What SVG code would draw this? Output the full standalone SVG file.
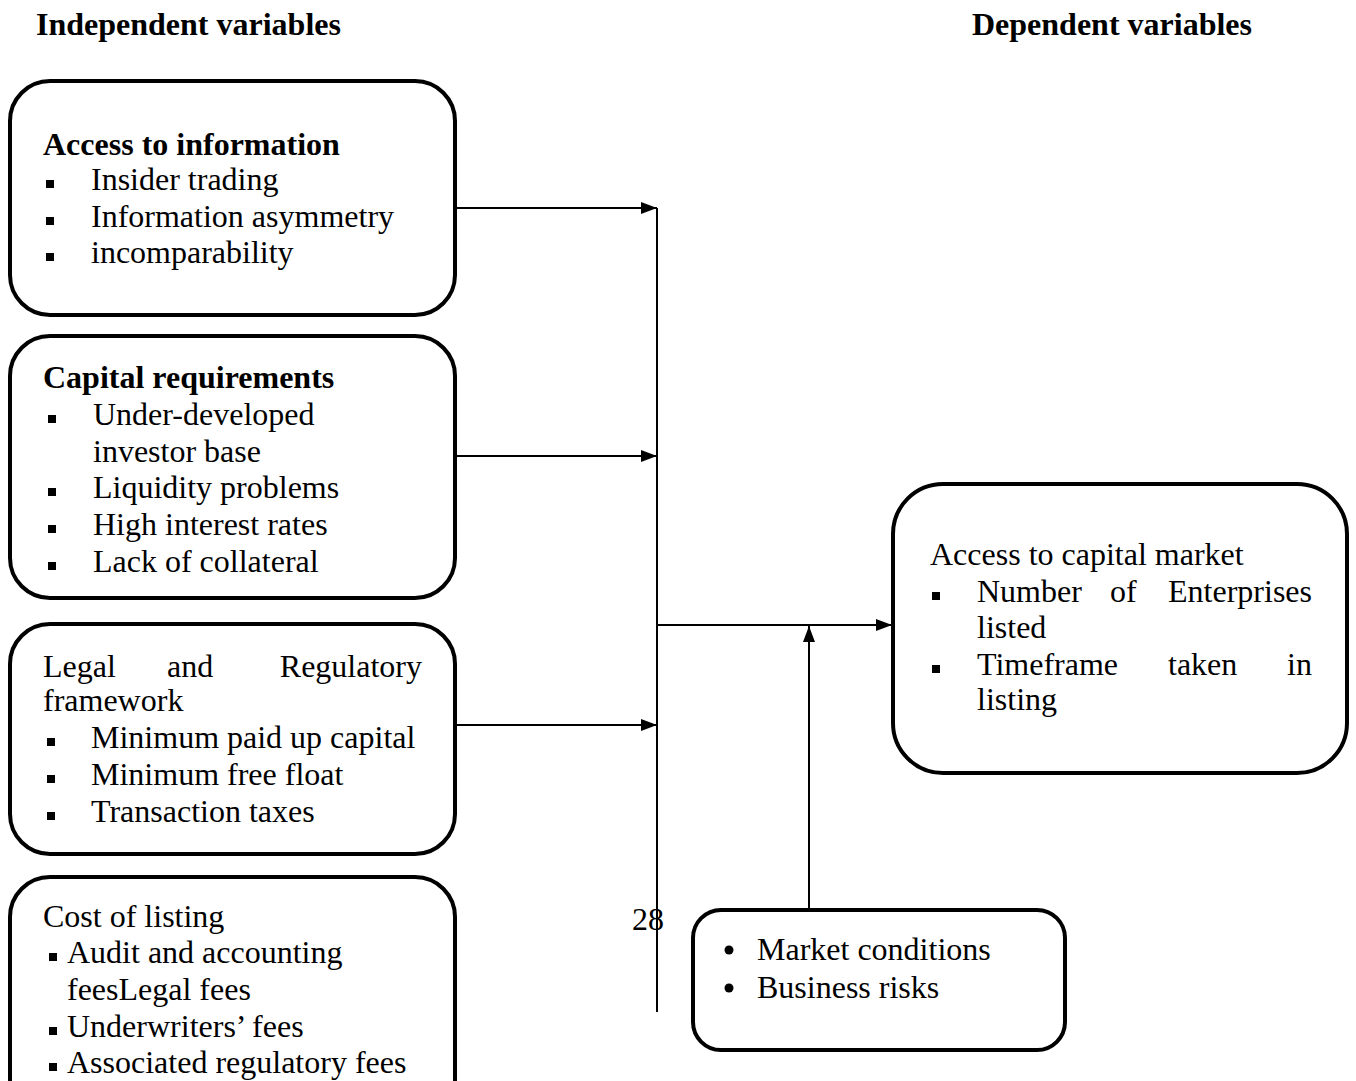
<svg xmlns="http://www.w3.org/2000/svg" xmlns:xlink="http://www.w3.org/1999/xlink" width="1356" height="1081" viewBox="0 0 1356 1081">
<style>
text{font-family:"Liberation Serif","Times New Roman",serif;font-size:32px;fill:#000}
.b{font-weight:bold}
.box{fill:#fff;stroke:#000;stroke-width:4}
.ln{stroke:#000;stroke-width:2;fill:none}
</style>
<defs>
<rect id="sq" width="8" height="8" fill="#000"/>
<marker id="ah" markerWidth="16" markerHeight="12" refX="16" refY="6" orient="auto" markerUnits="userSpaceOnUse">
<path d="M0,0 L16,6 L0,12 Z" fill="#000"/>
</marker>
</defs>
<rect width="1356" height="1081" fill="#fff"/>
<text class="b" x="36" y="35">Independent variables</text>
<text class="b" x="972" y="35">Dependent variables</text>

<g id="connectors">
<line class="ln" x1="657" y1="208" x2="657" y2="1012"/>
<line class="ln" x1="457" y1="208" x2="657" y2="208" marker-end="url(#ah)"/>
<line class="ln" x1="457" y1="456" x2="657" y2="456" marker-end="url(#ah)"/>
<line class="ln" x1="457" y1="725" x2="657" y2="725" marker-end="url(#ah)"/>
<line class="ln" x1="657" y1="625" x2="892" y2="625" marker-end="url(#ah)"/>
<line class="ln" x1="809" y1="910" x2="809" y2="626" marker-end="url(#ah)"/>
</g>

<g id="access-info">
<rect class="box" x="10" y="81" width="445" height="234" rx="40"/>
<text class="b" x="43" y="155">Access to information</text>
<use xlink:href="#sq" x="46" y="180"/><text x="91" y="190">Insider trading</text>
<use xlink:href="#sq" x="46" y="217"/><text x="91" y="227">Information asymmetry</text>
<use xlink:href="#sq" x="46" y="253"/><text x="91" y="263">incomparability</text>
</g>

<g id="capital-req">
<rect class="box" x="10" y="336" width="445" height="262" rx="40"/>
<text class="b" x="43" y="388">Capital requirements</text>
<use xlink:href="#sq" x="48" y="415"/><text x="93" y="425">Under-developed</text>
<text x="93" y="462">investor base</text>
<use xlink:href="#sq" x="48" y="488"/><text x="93" y="498">Liquidity problems</text>
<use xlink:href="#sq" x="48" y="525"/><text x="93" y="535">High interest rates</text>
<use xlink:href="#sq" x="48" y="562"/><text x="93" y="572">Lack of collateral</text>
</g>

<g id="legal">
<rect class="box" x="10" y="624" width="445" height="230" rx="40"/>
<text x="43" y="677">Legal</text>
<text x="167" y="677">and</text>
<text x="422" y="677" text-anchor="end">Regulatory</text>
<text x="43" y="711">framework</text>
<use xlink:href="#sq" x="47" y="738"/><text x="91" y="748">Minimum paid up capital</text>
<use xlink:href="#sq" x="47" y="775"/><text x="91" y="785">Minimum free float</text>
<use xlink:href="#sq" x="47" y="812"/><text x="91" y="822">Transaction taxes</text>
</g>

<g id="cost">
<rect class="box" x="10" y="877" width="445" height="260" rx="40"/>
<text x="43" y="927">Cost of listing</text>
<use xlink:href="#sq" x="49" y="953"/><text x="67" y="963">Audit and accounting</text>
<text x="67" y="1000">feesLegal fees</text>
<use xlink:href="#sq" x="49" y="1027"/><text x="67" y="1037">Underwriters’ fees</text>
<use xlink:href="#sq" x="49" y="1063"/><text x="67" y="1073">Associated regulatory fees</text>
</g>

<g id="capital-market">
<rect class="box" x="893" y="484" width="454" height="289" rx="50"/>
<text x="930" y="565">Access to capital market</text>
<use xlink:href="#sq" x="932" y="592"/>
<text x="977" y="602">Number</text>
<text x="1110" y="602">of</text>
<text x="1312" y="602" text-anchor="end">Enterprises</text>
<text x="977" y="638">listed</text>
<use xlink:href="#sq" x="932" y="665"/>
<text x="977" y="675">Timeframe</text>
<text x="1168" y="675">taken</text>
<text x="1312" y="675" text-anchor="end">in</text>
<text x="977" y="710">listing</text>
</g>

<g id="moderating">
<rect class="box" x="693" y="910" width="372" height="140" rx="28"/>
<circle cx="729" cy="950" r="4.5" fill="#000"/><text x="757" y="960">Market conditions</text>
<circle cx="729" cy="988" r="4.5" fill="#000"/><text x="757" y="998">Business risks</text>
</g>

<text x="632" y="930">28</text>
</svg>
